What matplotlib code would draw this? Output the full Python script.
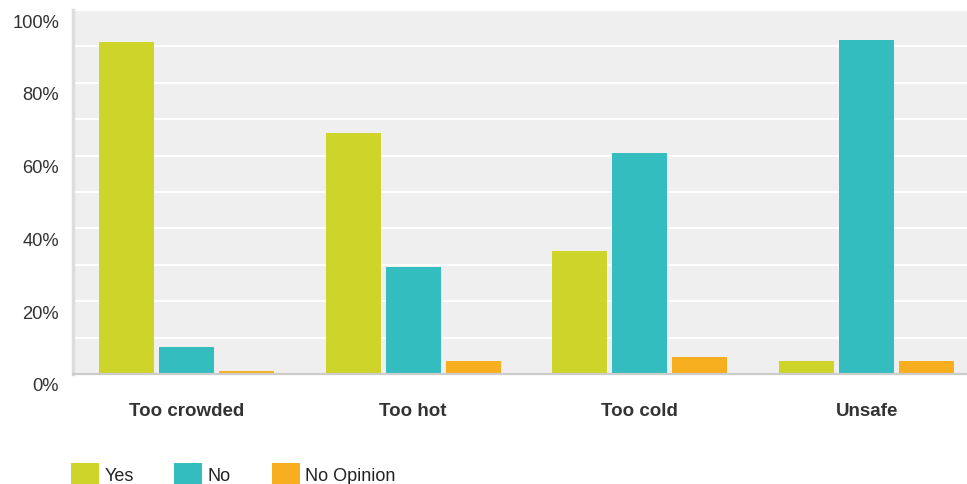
import matplotlib
matplotlib.use("Agg")
import matplotlib.pyplot as plt
import matplotlib.transforms as mtransforms
from matplotlib.patches import Patch
import numpy as np

categories = ["Too crowded", "Too hot", "Too cold", "Unsafe"]
series_names = ["Yes", "No", "No Opinion"]
yes_vals = [91.2, 66.3, 33.8, 3.7]
no_vals = [7.4, 29.4, 60.8, 91.7]
noop_vals = [0.8, 3.7, 4.8, 3.7]
y_ticks = [0, 20, 40, 60, 80, 100]
y_tick_labels = ["0%", "20%", "40%", "60%", "80%", "100%"]

colors = ["#cfd42a", "#34bdbf", "#f7ae1f"]

plt.rcParams['font.family'] = ['Liberation Sans', 'DejaVu Sans']

W, H = 967, 485
fig = plt.figure(figsize=(W / 100, H / 100), dpi=100)
ax = fig.add_axes([73 / W, 110 / H, (980 - 73) / W, 364 / H])
ax.set_facecolor("#efefef")

x = np.arange(len(categories))
bw = 0.2426
step = 0.265
for i, (vals, c) in enumerate(zip([yes_vals, no_vals, noop_vals], colors)):
    ax.bar(x + (i - 1) * step, vals, width=bw, color=c, zorder=3, linewidth=0)

ax.set_xlim(-0.5, len(categories) - 0.5)
ax.set_ylim(0, 100)
ax.set_yticks(y_ticks)
ax.set_yticklabels(y_tick_labels)
ax.set_yticks(np.arange(10, 100, 20), minor=True)
ax.grid(axis='y', which='both', color='white', linewidth=1.5, zorder=1)
ax.set_axisbelow(True)
ax.tick_params(axis='y', which='both', length=0, pad=10, labelsize=13.2, labelcolor='#333333')
ax.set_xticks(x)
ax.set_xticklabels(categories, fontweight='bold')
ax.tick_params(axis='x', length=0, pad=20, labelsize=13.5, labelcolor='#333333')

offset = mtransforms.ScaledTranslation(0, -10 / 100, fig.dpi_scale_trans)
for lab in ax.get_yticklabels():
    lab.set_transform(lab.get_transform() + offset)

for s in ['top', 'right']:
    ax.spines[s].set_visible(False)
ax.spines['left'].set_color('#dddddd')
ax.spines['left'].set_linewidth(2.5)
ax.spines['bottom'].set_color('#cccccc')
ax.spines['bottom'].set_linewidth(1.6)
ax.spines['bottom'].set_zorder(4)

handles = [Patch(facecolor=c, edgecolor='none') for c in colors]
fig.legend(handles, series_names, loc='center left',
           bbox_to_anchor=(71 / W, 10.5 / H), ncol=3, frameon=False,
           fontsize=13, handlelength=1.55, handleheight=1.35,
           handletextpad=0.3, columnspacing=2.25, borderpad=0, borderaxespad=0,
           labelcolor='#222222')

fig.savefig("out.png", dpi=100)
